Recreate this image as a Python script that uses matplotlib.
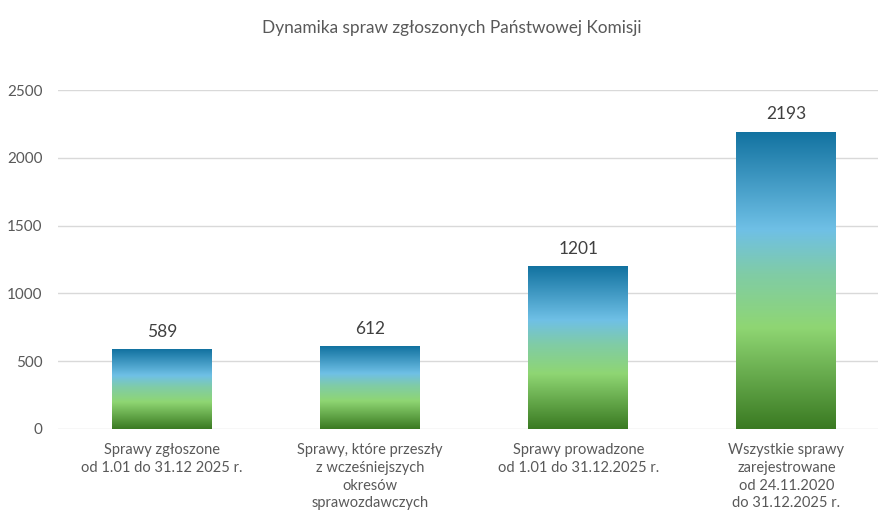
import numpy as np
import matplotlib.pyplot as plt
from matplotlib.colors import LinearSegmentedColormap
from matplotlib import rcParams

rcParams['font.family'] = ['Lato', 'DejaVu Sans']

categories = [
    'Sprawy zgłoszone\nod 1.01 do 31.12 2025 r.',
    'Sprawy, które przeszły\nz wcześniejszych\nokresów\nsprawozdawczych',
    'Sprawy prowadzone\nod 1.01 do 31.12.2025 r.',
    'Wszystkie sprawy\nzarejestrowane\nod 24.11.2020\ndo 31.12.2025 r.',
]
values = [589, 612, 1201, 2193]
yticks = [0, 500, 1000, 1500, 2000, 2500]
title = 'Dynamika spraw zgłoszonych Państwowej Komisji'

GRID = '#d9d9d9'
TXT = '#595959'
grad = LinearSegmentedColormap.from_list('bar', [
    (0.00, '#3a7a22'),
    (0.34, '#8fd673'),
    (0.52, '#80cca6'),
    (0.67, '#6fc0e6'),
    (1.00, '#1272a0'),
])

fig = plt.figure(figsize=(8.8, 5.14), dpi=100, facecolor='white')
ax = fig.add_axes([58 / 880, 1 - 429 / 514, 820 / 880, 339 / 514])

x = np.arange(len(values))
bars = ax.bar(x, values, width=0.48, facecolor='none', edgecolor='none', zorder=3)

g = np.linspace(0, 1, 256).reshape(-1, 1)
for b, v in zip(bars, values):
    x0, w = b.get_x(), b.get_width()
    im = ax.imshow(g, cmap=grad, origin='lower', aspect='auto',
                   extent=[x0, x0 + w, 0, v], zorder=3, interpolation='bilinear')
    im.set_clip_path(b)
    ax.text(x0 + w / 2, v + 70, str(v), ha='center', va='bottom',
            fontsize=12.5, color='#404040')

ax.set_xlim(-0.5, 3.44)
ax.set_ylim(0, 2500)
ax.set_yticks(yticks)
ax.set_yticklabels([str(t) for t in yticks])
ax.set_xticks(x)
ax.set_xticklabels(categories, fontsize=10.5, color=TXT, linespacing=1.35)
ax.tick_params(axis='y', length=0, pad=11, labelsize=11, labelcolor=TXT)
ax.tick_params(axis='x', length=0, pad=10)
ax.yaxis.grid(True, color=GRID, linewidth=1, zorder=0)
ax.set_axisbelow(True)
for s in ax.spines.values():
    s.set_visible(False)

fig.text(452 / 880, 1 - 28 / 514, title, ha='center', va='center',
         fontsize=12.4, color=TXT)

fig.savefig('out.png', dpi=100, facecolor='white')
